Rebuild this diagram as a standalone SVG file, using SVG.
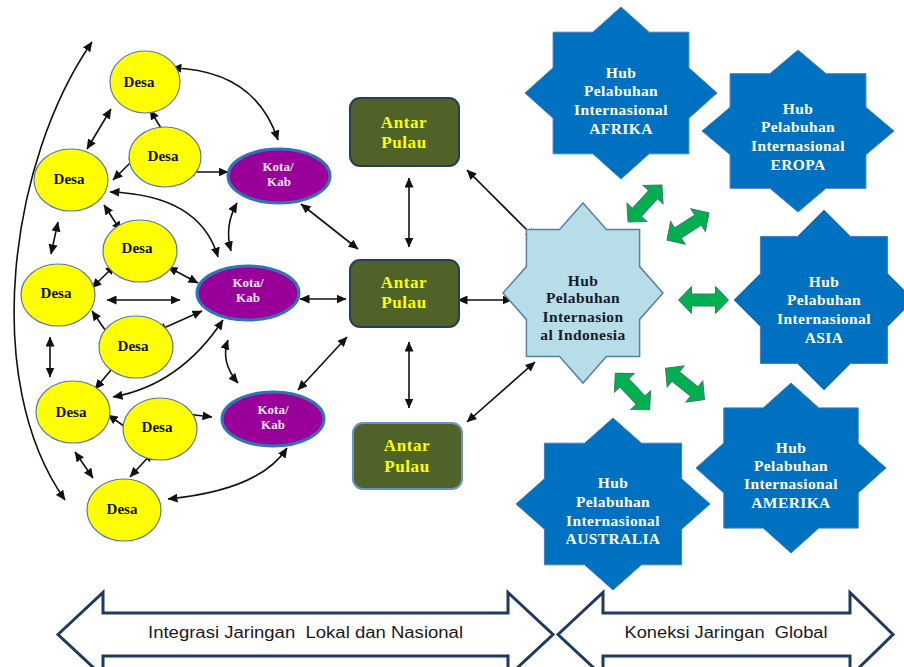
<svg xmlns="http://www.w3.org/2000/svg" width="904" height="667" viewBox="0 0 904 667">
<defs>
<style>
.desa{fill:#ffff00;stroke:#5a78a8;stroke-width:1.2}
.kota{fill:#990099;stroke:#2e75b6;stroke-width:3}
.box{fill:#4f6228;stroke:#263d5c;stroke-width:2}
.star{fill:#0070c0;stroke:#3f7fbf;stroke-width:1}
.hubid{fill:#b7dde8;stroke:#5a7fa8;stroke-width:1.5}
.t{font-family:"Liberation Serif","Times New Roman",serif;font-weight:bold;text-anchor:middle}
.td{font-size:15px;fill:#111}
.tk{font-size:13px;fill:#f6e8f6}
.tb{font-size:17px;fill:#ffff00;letter-spacing:0.6px}
.ts{font-size:15.5px;fill:#ffffff;letter-spacing:0.4px}
.ti{font-size:15.5px;fill:#1a1a2a;letter-spacing:0.4px}
.con path{fill:none;stroke:#111;stroke-width:1.6;marker-start:url(#ah);marker-end:url(#ah)}
.garrow{fill:#00b050;stroke:#3d7a66;stroke-width:1}
.blk{fill:#ffffff;stroke:#1f3a5f;stroke-width:3;stroke-linejoin:miter}
.bt{font-family:"Liberation Sans",Arial,sans-serif;font-size:16px;fill:#1a1a1a;text-anchor:middle;white-space:pre}
</style>
<marker id="ah" viewBox="0 0 10 9" refX="9.5" refY="4.5" markerWidth="10" markerHeight="9" markerUnits="userSpaceOnUse" orient="auto-start-reverse">
<path d="M0,0 L10,4.5 L0,9 Z" fill="#111"/>
</marker>
<path id="ga" d="M-25,0 L-12,-13.5 L-12,-6 L12,-6 L12,-13.5 L25,0 L12,13.5 L12,6 L-12,6 L-12,13.5 Z"/>
</defs>
<rect width="904" height="667" fill="#ffffff"/>

<g id="connectors" class="con">
<path d="M92,42 C10,160 -20,380 65,500"/>
<path d="M172,68 Q255,70 278,140"/>
<path d="M150,110 L167,138"/>
<path d="M111,109 L87,149"/>
<path d="M138,155 L113,180"/>
<path d="M185,172 L228,172"/>
<path d="M110,192 Q200,195 218,257"/>
<path d="M104,205 L121,231"/>
<path d="M58,222 L51,254"/>
<path d="M237,203 Q224,226 231,251"/>
<path d="M301,204 L358,249"/>
<path d="M168,267 L198,283"/>
<path d="M115,265 L92,288"/>
<path d="M107,300 L180,300"/>
<path d="M300,299 L346,299"/>
<path d="M202,311 L157,331"/>
<path d="M92,311 L112,340"/>
<path d="M50,337 L50,377"/>
<path d="M223,320 Q180,385 113,397"/>
<path d="M122,357 L95,389"/>
<path d="M228,340 Q220,362 238,383"/>
<path d="M347,337 L298,390"/>
<path d="M108,415 L137,435"/>
<path d="M178,413 L212,417"/>
<path d="M75,452 L93,478"/>
<path d="M153,452 L130,477"/>
<path d="M168,499 Q260,490 287,448"/>
<path d="M409,178 L409,247"/>
<path d="M409,342 L409,408"/>
<path d="M467,170 L535,238"/>
<path d="M458,300 L512,300"/>
<path d="M467,422 L535,362"/>
</g>

<g id="green-arrows">
<use href="#ga" class="garrow" transform="translate(645,203.5) rotate(-47.4)"/>
<use href="#ga" class="garrow" transform="translate(688,226.5) rotate(-32.7)"/>
<use href="#ga" class="garrow" transform="translate(703.5,300)"/>
<use href="#ga" class="garrow" transform="translate(685,384) rotate(38.7)"/>
<use href="#ga" class="garrow" transform="translate(632.5,391.5) rotate(46.6)"/>
</g>

<g id="desa1"><ellipse class="desa" cx="145" cy="82" rx="35" ry="31"/><text class="t td" x="139" y="87">Desa</text></g>
<g id="desa2"><ellipse class="desa" cx="165" cy="157" rx="36" ry="30"/><text class="t td" x="163" y="161">Desa</text></g>
<g id="desa3"><ellipse class="desa" cx="71" cy="180" rx="37" ry="31"/><text class="t td" x="69" y="184">Desa</text></g>
<g id="desa4"><ellipse class="desa" cx="140" cy="251" rx="37" ry="31"/><text class="t td" x="137" y="253">Desa</text></g>
<g id="desa5"><ellipse class="desa" cx="58" cy="295" rx="37" ry="31"/><text class="t td" x="56" y="298">Desa</text></g>
<g id="desa6"><ellipse class="desa" cx="136" cy="347" rx="37" ry="31"/><text class="t td" x="133" y="351">Desa</text></g>
<g id="desa7"><ellipse class="desa" cx="73" cy="412" rx="37" ry="31"/><text class="t td" x="71" y="417">Desa</text></g>
<g id="desa8"><ellipse class="desa" cx="160" cy="429" rx="37" ry="31"/><text class="t td" x="157" y="432">Desa</text></g>
<g id="desa9"><ellipse class="desa" cx="124" cy="510" rx="37" ry="31"/><text class="t td" x="122" y="514">Desa</text></g>

<g id="kota1"><ellipse class="kota" cx="279" cy="176" rx="51" ry="27"/><text class="t tk" x="278" y="171">Kota/</text><text class="t tk" x="279" y="186">Kab</text></g>
<g id="kota2"><ellipse class="kota" cx="248" cy="293" rx="51" ry="27"/><text class="t tk" x="248" y="287">Kota/</text><text class="t tk" x="248" y="302">Kab</text></g>
<g id="kota3"><ellipse class="kota" cx="273" cy="419" rx="51" ry="27"/><text class="t tk" x="273" y="414">Kota/</text><text class="t tk" x="273" y="429">Kab</text></g>

<g id="antar1"><rect class="box" x="350" y="98" width="109" height="68" rx="10"/><text class="t tb" x="404" y="128">Antar</text><text class="t tb" x="404" y="148">Pulau</text></g>
<g id="antar2"><rect class="box" x="350" y="260" width="109" height="67" rx="10"/><text class="t tb" x="404" y="288">Antar</text><text class="t tb" x="404" y="308">Pulau</text></g>
<g id="antar3"><rect class="box" x="353" y="423" width="109" height="66" rx="10" style="stroke:#6a92c8"/><text class="t tb" x="407" y="451">Antar</text><text class="t tb" x="407" y="472">Pulau</text></g>

<g id="hub-indonesia">
<polygon class="hubid" points="583,203 606.4,229.4 639.6,229.4 639.6,266.6 663,293 639.6,319.4 639.6,356.6 606.4,356.6 583,383 559.6,356.6 526.4,356.6 526.4,319.4 503,293 526.4,266.6 526.4,229.4 559.6,229.4"/>
<text class="t ti" x="583" y="285.5">Hub</text>
<text class="t ti" x="583" y="303">Pelabuhan</text>
<text class="t ti" x="583" y="321.5">Internasion</text>
<text class="t ti" x="583" y="339.5">al Indonesia</text>
</g>

<g id="hub-afrika">
<polygon class="star" points="621,7 649.1,32.2 688.9,32.2 688.9,67.8 717,93 688.9,118.2 688.9,153.8 649.1,153.8 621,179 592.9,153.8 553.1,153.8 553.1,118.2 525,93 553.1,67.8 553.1,32.2 592.9,32.2"/>
<text class="t ts" x="621" y="77.5">Hub</text>
<text class="t ts" x="621" y="95.5">Pelabuhan</text>
<text class="t ts" x="621" y="114.5">Internasional</text>
<text class="t ts" x="621" y="133.5">AFRIKA</text>
</g>

<g id="hub-eropa">
<polygon class="star" points="798,50 826.1,73.7 865.9,73.7 865.9,107.3 894,131 865.9,154.7 865.9,188.3 826.1,188.3 798,212 769.9,188.3 730.1,188.3 730.1,154.7 702,131 730.1,107.3 730.1,73.7 769.9,73.7"/>
<text class="t ts" x="798" y="113.5">Hub</text>
<text class="t ts" x="798" y="131.5">Pelabuhan</text>
<text class="t ts" x="798" y="150.5">Internasional</text>
<text class="t ts" x="798" y="169.5">EROPA</text>
</g>

<g id="hub-asia">
<polygon class="star" points="824,210 850.4,236.4 887.6,236.4 887.6,273.6 914,300 887.6,326.4 887.6,363.6 850.4,363.6 824,390 797.6,363.6 760.4,363.6 760.4,326.4 734,300 760.4,273.6 760.4,236.4 797.6,236.4"/>
<text class="t ts" x="824" y="286.5">Hub</text>
<text class="t ts" x="824" y="304.5">Pelabuhan</text>
<text class="t ts" x="824" y="323.5">Internasional</text>
<text class="t ts" x="824" y="342.5">ASIA</text>
</g>

<g id="hub-amerika">
<polygon class="star" points="791,383 818.8,407.9 858.2,407.9 858.2,443.1 886,468 858.2,492.9 858.2,528.1 818.8,528.1 791,553 763.2,528.1 723.8,528.1 723.8,492.9 696,468 723.8,443.1 723.8,407.9 763.2,407.9"/>
<text class="t ts" x="791" y="452.5">Hub</text>
<text class="t ts" x="791" y="470.5">Pelabuhan</text>
<text class="t ts" x="791" y="489">Internasional</text>
<text class="t ts" x="791" y="507.5">AMERIKA</text>
</g>

<g id="hub-australia">
<polygon class="star" points="613,418 641.4,443.2 681.6,443.2 681.6,478.8 710,504 681.6,529.2 681.6,564.8 641.4,564.8 613,590 584.6,564.8 544.4,564.8 544.4,529.2 516,504 544.4,478.8 544.4,443.2 584.6,443.2"/>
<text class="t ts" x="613" y="487.5">Hub</text>
<text class="t ts" x="613" y="506.5">Pelabuhan</text>
<text class="t ts" x="613" y="525.5">Internasional</text>
<text class="t ts" x="613" y="543.5">AUSTRALIA</text>
</g>

<g id="band-local">
<path class="blk" d="M58,634.5 L103,592.5 L103,613 L508,613 L508,592.5 L553,634.5 L508,676.5 L508,656 L103,656 L103,676.5 Z"/>
<text class="bt" x="305.5" y="638" textLength="315" lengthAdjust="spacingAndGlyphs">Integrasi Jaringan  Lokal dan Nasional</text>
</g>
<g id="band-global">
<path class="blk" d="M558,634.5 L603,592.5 L603,613 L850,613 L850,592.5 L893,634.5 L850,676.5 L850,656 L603,656 L603,676.5 Z"/>
<text class="bt" x="726" y="638" textLength="203" lengthAdjust="spacingAndGlyphs">Koneksi Jaringan  Global</text>
</g>
</svg>
